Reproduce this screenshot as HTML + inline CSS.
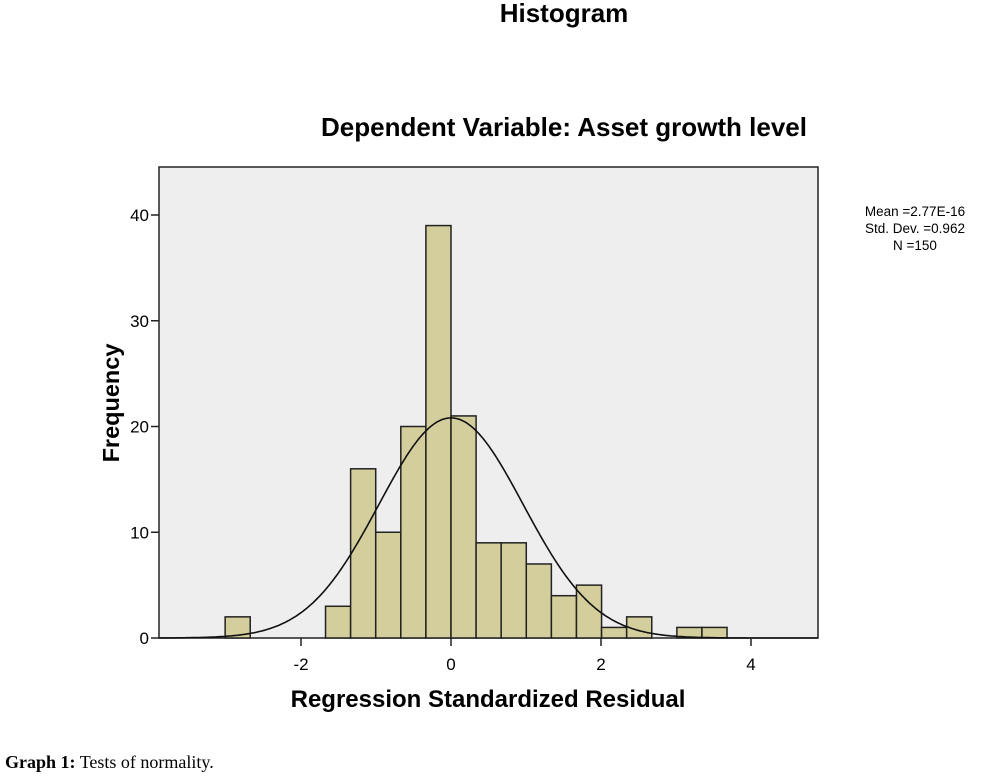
<!DOCTYPE html>
<html><head><meta charset="utf-8"><style>
body{margin:0;background:#fff;width:999px;height:779px;overflow:hidden}
svg{display:block}
text{font-family:"Liberation Sans",Arial,sans-serif;fill:#000}
</style></head><body>
<svg width="999" height="779">
<text x="564" y="22" text-anchor="middle" font-size="26" font-weight="bold">Histogram</text>
<text x="564" y="136" text-anchor="middle" font-size="26" font-weight="bold">Dependent Variable: Asset growth level</text>
<rect x="159" y="167" width="659" height="471" fill="#eeeeee" stroke="#222" stroke-width="1.5"/>
<g id="bars"></g>
<path id="curve" fill="none" stroke="#111" stroke-width="1.6"/>
<g id="axes"></g>
<text transform="translate(119,403) rotate(-90)" text-anchor="middle" font-size="23.5" font-weight="bold">Frequency</text>
<text x="488" y="707" text-anchor="middle" font-size="24" font-weight="bold">Regression Standardized Residual</text>
<g font-size="13.5" text-anchor="middle">
<text x="915" y="216">Mean =2.77E-16</text>
<text x="915" y="233">Std. Dev. =0.962</text>
<text x="915" y="250">N =150</text>
</g>
<text x="5" y="768" font-size="18" style="font-family:'Liberation Serif',serif"><tspan font-weight="bold">Graph 1:</tspan> Tests of normality.</text>
</svg>
<script>
const binStarts=[-9,-8,-7,-6,-5,-4,-3,-2,-1,0,1,2,3,4,5,6,7,8,9,10];
const counts=[2,0,0,0,3,16,10,20,39,21,9,9,7,4,5,1,2,0,1,1];
const binWidth=0.3346;
const mean=0, sd=0.962, N=150;
const xTicks=[-2,0,2,4];
const yTicks=[0,10,20,30,40];
const NS="http://www.w3.org/2000/svg";
const xs=v=>451+v*75;
const ys=v=>638-v*10.575;
const bars=document.getElementById('bars');
binStarts.forEach((b,i)=>{
  if(!counts[i])return;
  const r=document.createElementNS(NS,'rect');
  const x0=xs(b*binWidth),x1=xs((b+1)*binWidth);
  r.setAttribute('x',x0);r.setAttribute('width',x1-x0);
  r.setAttribute('y',ys(counts[i]));r.setAttribute('height',ys(0)-ys(counts[i]));
  r.setAttribute('fill','#d3ce9b');r.setAttribute('stroke','#222');r.setAttribute('stroke-width','1.5');
  
  
  bars.appendChild(r);
});
let d='';
for(let v=-3.89;v<=4.89;v+=0.02){
  const y=N*binWidth/(sd*Math.sqrt(2*Math.PI))*Math.exp(-0.5*((v-mean)/sd)**2);
  d+=(d?'L':'M')+xs(v).toFixed(1)+','+ys(y).toFixed(1);
}
document.getElementById('curve').setAttribute('d',d);
const ax=document.getElementById('axes');
function add(tag,attrs,txt){const e=document.createElementNS(NS,tag);for(const k in attrs)e.setAttribute(k,attrs[k]);if(txt!==undefined)e.textContent=txt;ax.appendChild(e);return e;}
xTicks.forEach(t=>{
  const l=add('line',{x1:xs(t),x2:xs(t),y1:638,y2:646,stroke:'#222','stroke-width':1.5});
  
  
  const tx=add('text',{x:xs(t),y:670,'text-anchor':'middle','font-size':17},String(t));
  
  
});
yTicks.forEach(t=>{
  const l=add('line',{x1:151,x2:159,y1:ys(t),y2:ys(t),stroke:'#222','stroke-width':1.5});
  
  
  const tx=add('text',{x:149,y:ys(t)+6,'text-anchor':'end','font-size':17},String(t));
  
  
});
</script>
</body></html>
